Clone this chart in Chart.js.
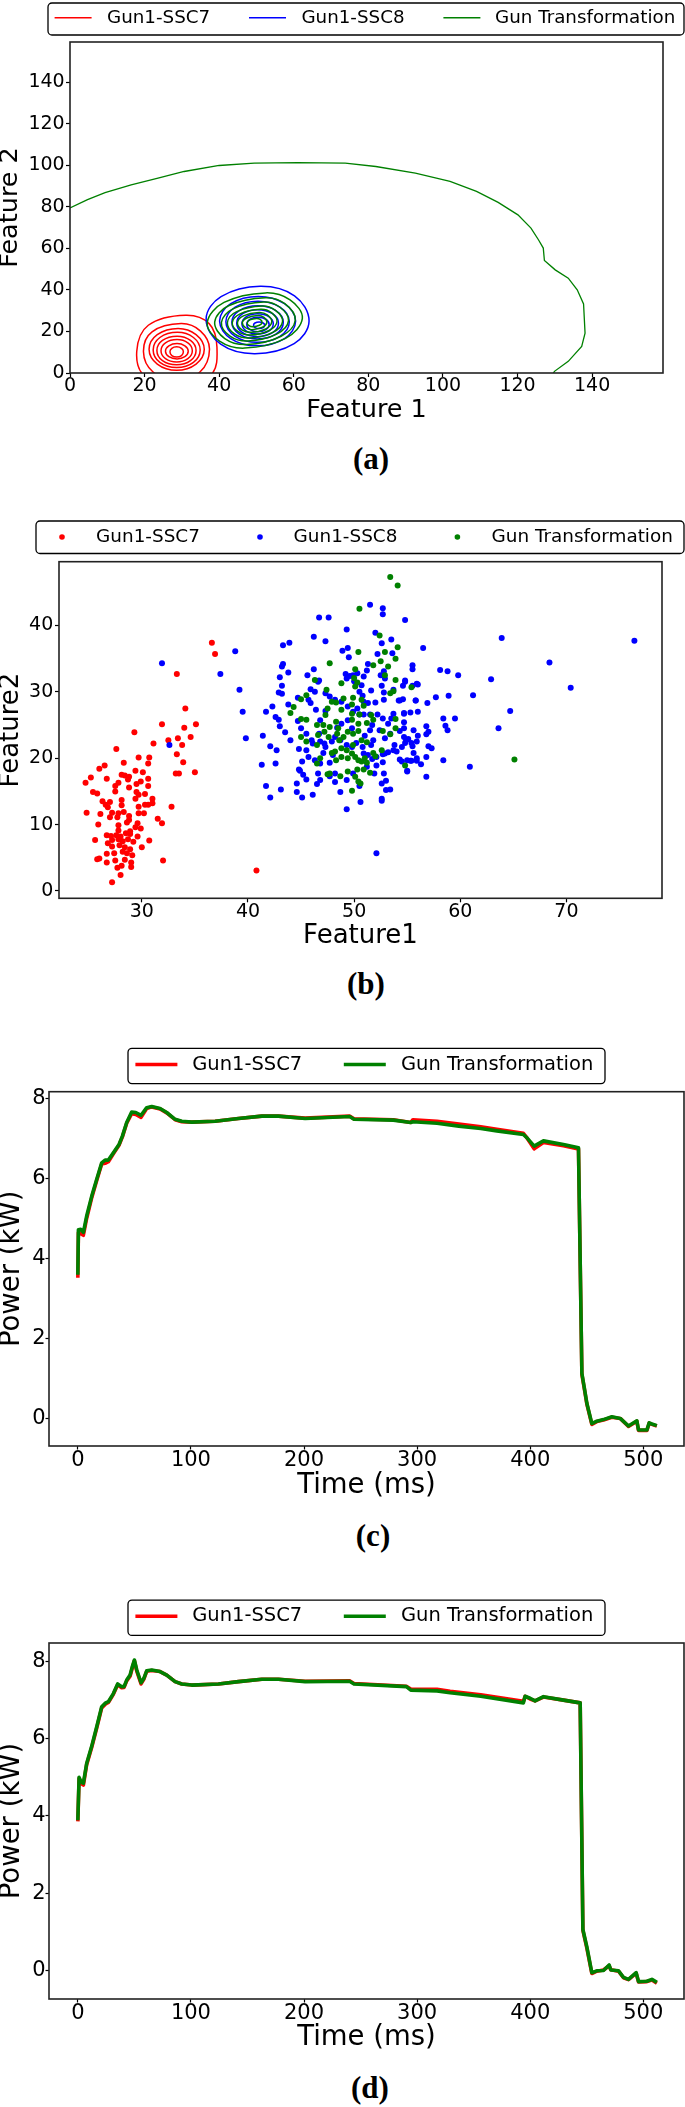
<!DOCTYPE html>
<html>
<head>
<meta charset="utf-8">
<script src="https://cdn.jsdelivr.net/npm/chart.js@4.4.1/dist/chart.umd.min.js"></script>
<style>
html, body { margin: 0; padding: 0; background: #fff; }
body { width: 685px; height: 2107px; position: relative; overflow: hidden; }
canvas { position: absolute; left: 0; }
.cap { position: absolute; width: 100px; text-align: center; font: bold 31px "Liberation Serif", serif; line-height: 31px; }
</style>
</head>
<body>
<canvas id="chartA" width="685" height="440" style="top:0px"></canvas>
<div class="cap" style="left:321px;top:443px">(a)</div>
<canvas id="chartB" width="685" height="460" style="top:500px"></canvas>
<div class="cap" style="left:316px;top:968px">(b)</div>
<canvas id="chartC" width="685" height="470" style="top:1040px"></canvas>
<div class="cap" style="left:323px;top:1520px">(c)</div>
<canvas id="chartD" width="685" height="470" style="top:1590px"></canvas>
<div class="cap" style="left:320px;top:2072px">(d)</div>
<script>
// ---------- (a) density contours, each ring as [x, y] vertices (E, NE, N, NW, W, SW, S, SE)
var ssc7Rings = [
  [[39.4,12.5],[37.3,23.8],[31.0,27.8],[21.0,23.0],[17.9,10.5],[20.0,-1.5],[28.6,-6.5],[37.8,-1.0]],
  [[37.4,11.5],[35.0,20.2],[29.8,23.8],[22.0,19.8],[19.7,10.2],[22.2,0.6],[28.6,-3.4],[34.9,0.6]],
  [[36.0,11.4],[33.8,18.5],[29.0,21.5],[23.4,18.5],[21.2,11.4],[23.4,4.3],[28.6,1.3],[33.8,4.3]],
  [[34.9,11.1],[33.1,17.1],[28.8,19.6],[24.1,17.1],[22.3,11.1],[24.1,5.1],[28.6,2.6],[33.1,5.1]],
  [[33.8,10.9],[32.3,15.7],[28.7,17.7],[24.8,15.7],[23.3,10.9],[24.8,6.0],[28.6,4.0],[32.3,6.0]],
  [[32.8,10.7],[31.6,14.5],[28.7,16.1],[25.6,14.5],[24.4,10.7],[25.6,6.9],[28.6,5.3],[31.6,6.9]],
  [[31.7,10.5],[30.8,13.1],[28.7,14.2],[26.5,13.1],[25.6,10.5],[26.5,7.9],[28.7,6.8],[30.8,7.9]],
  [[30.4,10.2],[29.9,11.9],[28.6,12.6],[27.3,11.9],[26.8,10.2],[27.3,8.4],[28.6,7.7],[29.9,8.4]]
];
var ssc8Rings = [
  [[64.1,25.0],[60.2,37.2],[51.0,41.8],[40.5,36.8],[36.5,26.0],[40.4,13.9],[49.6,9.3],[60.1,14.2]],
  [[60.5,25.0],[57.5,33.4],[50.5,36.9],[43.1,33.4],[40.1,25.0],[43.1,16.6],[50.1,13.1],[57.5,16.6]],
  [[58.8,24.7],[56.3,31.7],[50.4,34.6],[44.3,31.7],[41.8,24.7],[44.3,17.7],[50.2,14.8],[56.3,17.7]],
  [[57.2,24.4],[55.2,30.1],[50.4,32.4],[45.4,30.1],[43.4,24.4],[45.4,18.7],[50.2,16.4],[55.2,18.7]],
  [[55.9,24.0],[54.3,28.6],[50.3,30.5],[46.3,28.6],[44.7,24.0],[46.3,19.4],[50.3,17.5],[54.3,19.4]],
  [[54.5,23.7],[53.3,27.2],[50.3,28.6],[47.3,27.2],[46.1,23.7],[47.3,20.2],[50.3,18.8],[53.3,20.2]],
  [[53.4,23.4],[52.5,25.9],[50.4,26.9],[48.3,25.9],[47.4,23.4],[48.3,20.9],[50.4,19.9],[52.5,20.9]],
  [[52.2,23.0],[51.8,24.1],[50.7,24.6],[49.6,24.1],[49.2,23.0],[49.6,21.9],[50.7,21.4],[51.8,21.9]]
];
var transRings = [
  [[62.3,26.3],[59.0,35.2],[52.4,38.6],[41.3,34.0],[36.8,24.3],[40.1,15.4],[46.8,12.0],[57.8,16.7]],
  [[60.4,25.4],[57.6,33.4],[52.4,36.3],[42.5,32.4],[38.8,24.6],[41.5,16.6],[47.4,13.7],[56.6,17.7]],
  [[58.6,25.2],[56.2,31.8],[51.9,34.2],[43.7,30.9],[40.6,24.4],[42.9,17.8],[47.7,15.4],[55.4,18.7]],
  [[57.0,24.9],[55.0,30.3],[51.5,32.3],[44.7,29.6],[42.2,24.3],[44.1,18.9],[48.1,16.9],[54.4,19.6]],
  [[55.5,24.7],[54.0,29.1],[51.1,30.7],[45.6,28.5],[43.5,24.3],[45.1,19.9],[48.3,18.3],[53.4,20.5]],
  [[54.1,24.6],[52.9,28.0],[50.7,29.2],[46.5,27.5],[44.9,24.2],[46.1,20.8],[48.6,19.6],[52.5,21.3]],
  [[52.8,24.4],[52.0,26.8],[50.4,27.7],[47.4,26.5],[46.2,24.2],[47.1,21.8],[48.8,20.9],[51.6,22.1]],
  [[51.5,24.3],[51.0,25.8],[50.0,26.3],[48.2,25.6],[47.5,24.3],[48.0,22.8],[49.1,22.3],[50.8,23.0]]
];
var transOuter = [[0,79.5],[4.7,83.5],[9.4,86.9],[16.4,90.7],[23.6,93.9],[30.6,97.1],[40.0,100.0],[49.4,101.1],
  [61.1,101.4],[73.8,101.1],[82.0,99.5],[92.6,96.3],[101.9,92.3],[109.0,87.5],[114.8,82.2],[120.1,76.2],
  [123.6,69.8],[125.6,64.2],[126.9,60.2],[127.2,54.2],[130.1,49.7],[133.6,45.7],[136.0,40.1],[137.7,33.3],
  [138.1,19.2],[137.2,12.8],[133.6,5.6],[129.9,0.8],[129.6,0]];
var featureTicksA = [0, 20, 40, 60, 80, 100, 120, 140];

// ---------- (b) scatter of extracted features
var ssc7Pts = [[36.6,37.4],[36.9,35.7],[33.3,32.7],[34.1,27.5],[31.9,25.1],[34.0,24.6],[35.1,25.1],[29.3,23.9],[33.4,23.0],[34.6,23.2],
  [31.1,22.2],[32.5,22.7],[33.8,22.0],[27.6,21.4],[33.3,20.6],[29.7,20.1],[30.7,20.1],[30.6,19.2],[33.9,19.4],[28.3,19.3],
  [26.0,18.4],[26.5,18.9],[29.4,18.1],[30.1,17.9],[33.2,17.7],[33.5,17.7],[35.0,17.9],[25.2,17.1],[26.7,16.9],[28.1,17.5],
  [28.4,17.4],[28.8,17.2],[24.7,16.3],[27.8,16.3],[28.7,16.8],[29.9,16.5],[30.6,16.9],[27.5,15.8],[28.8,15.6],[29.5,16.1],
  [30.6,15.8],[25.4,14.9],[25.8,14.7],[27.5,15.0],[29.5,14.9],[29.7,14.5],[30.3,14.6],[26.3,13.5],[27.0,13.4],[28.1,13.7],
  [31.0,13.9],[26.6,13.0],[28.1,12.9],[29.7,12.7],[30.3,13.0],[30.6,13.0],[31.0,13.2],[26.8,12.6],[29.4,13.9],[24.8,11.8],
  [26.1,11.6],[27.2,11.8],[27.8,11.7],[28.3,11.9],[27.0,11.1],[27.7,11.1],[28.8,11.3],[29.7,11.7],[30.2,11.7],[32.8,12.7],
  [31.5,10.9],[31.9,10.2],[25.9,10.0],[27.8,9.9],[28.6,10.3],[29.6,10.2],[28.8,10.7],[29.4,9.6],[29.9,9.4],[27.8,9.1],
  [28.9,9.0],[28.5,8.7],[25.6,7.7],[26.7,8.4],[27.1,8.3],[27.6,8.4],[28.0,8.2],[28.9,8.6],[29.6,8.2],[26.8,7.2],
  [27.2,7.7],[27.8,7.8],[28.2,7.5],[28.7,7.8],[29.2,7.4],[30.7,7.6],[27.2,6.7],[27.9,6.9],[28.4,6.6],[28.9,6.3],
  [30.0,6.6],[26.7,5.6],[27.4,5.7],[28.2,5.9],[28.6,5.7],[29.1,5.4],[25.8,4.8],[26.0,4.9],[26.7,4.3],[27.5,4.6],
  [28.4,4.7],[29.0,4.3],[32.0,4.6],[27.7,3.5],[28.1,3.8],[29.0,3.6],[28.0,2.4],[27.2,1.3],[40.8,3.1]];
var ssc8Pts = [[31.9,34.3],[37.4,32.7],[32.6,22.0],[38.8,36.1],[39.2,30.3],[39.5,27.0],[39.8,23.0],[41.4,23.4],[41.3,19.0],[41.7,15.8],
  [42.1,14.1],[42.6,19.2],[43.1,15.3],[42.1,21.8],[42.7,21.2],[41.7,27.0],[42.3,27.8],[42.6,26.2],[42.9,25.8],[43.0,24.8],
  [43.2,29.7],[43.2,30.9],[43.0,32.2],[42.9,29.9],[43.2,33.8],[43.3,34.2],[43.3,37.0],[43.9,37.4],[43.8,32.9],[43.5,23.9],
  [43.8,28.1],[44.0,22.7],[44.7,29.1],[44.7,25.6],[45.0,24.5],[44.8,21.4],[45.1,19.5],[44.8,18.3],[44.9,18.1],[45.2,17.5],
  [45.5,16.8],[44.6,16.2],[44.6,14.9],[45.1,14.1],[46.1,14.5],[46.5,16.1],[46.6,17.7],[45.7,20.2],[46.0,22.7],[46.7,23.7],
  [46.2,38.3],[46.7,41.2],[47.6,41.2],[47.3,37.6],[45.6,32.5],[46.2,33.4],[45.9,30.4],[46.3,30.0],[46.6,31.5],[46.7,31.7],
  [45.7,28.8],[45.9,28.3],[46.4,27.3],[47.3,27.1],[46.8,25.7],[45.5,23.7],[46.8,22.5],[46.3,19.7],[47.1,20.8],[47.3,21.7],
  [48.0,20.5],[47.7,19.3],[46.8,19.2],[48.2,16.4],[48.7,14.9],[49.3,12.3],[50.6,13.4],[50.5,15.8],[48.2,17.7],[49.3,39.4],
  [48.9,36.2],[49.4,36.6],[49.5,35.2],[49.2,32.7],[49.3,32.0],[49.6,32.4],[49.9,32.5],[50.3,32.8],[50.9,32.3],[50.0,31.6],
  [50.7,31.0],[51.2,33.2],[51.5,43.1],[52.7,42.6],[52.7,41.7],[52.0,38.9],[52.6,37.3],[53.5,37.9],[52.2,35.7],[53.6,35.8],
  [54.8,40.8],[52.8,33.1],[52.5,32.5],[52.9,32.0],[51.6,30.2],[52.6,30.9],[52.8,29.9],[52.8,28.8],[52.0,28.4],[51.3,28.3],
  [50.8,29.4],[50.5,26.6],[51.5,26.6],[52.2,26.6],[52.7,26.0],[53.5,26.0],[54.2,28.7],[54.6,28.9],[53.7,30.3],[54.8,31.5],
  [55.5,34.0],[55.5,33.4],[55.5,30.9],[55.9,31.2],[55.8,28.7],[54.7,26.8],[55.3,26.9],[56.0,27.0],[53.2,25.2],[54.3,24.1],
  [54.7,24.5],[54.9,22.7],[55.4,22.3],[55.9,22.5],[55.6,20.8],[55.0,19.7],[55.3,19.6],[55.0,18.1],[55.9,19.6],[54.3,19.8],
  [53.7,21.2],[54.0,21.0],[53.2,20.9],[52.7,20.6],[52.9,20.7],[52.7,19.4],[52.1,18.9],[51.9,17.7],[52.8,17.7],[52.6,16.2],
  [53.0,16.6],[53.0,15.2],[53.4,15.3],[52.6,13.9],[52.6,13.6],[51.7,19.9],[51.6,22.0],[51.8,22.7],[51.5,24.2],[51.7,25.0],
  [51.0,23.4],[51.3,20.5],[50.8,21.7],[50.9,20.7],[50.2,22.3],[49.8,21.7],[49.3,22.0],[48.7,22.7],[48.2,23.2],[47.9,22.5],
  [47.2,22.2],[48.4,24.6],[48.8,25.2],[49.4,25.7],[49.8,24.5],[50.9,26.6],[50.3,27.5],[49.9,27.0],[49.4,27.8],[48.8,28.5],
  [48.2,28.8],[47.7,29.3],[47.3,29.8],[46.1,22.2],[45.5,21.2],[47.7,17.3],[46.8,16.7],[49.3,16.7],[49.9,17.7],[51.2,18.7],
  [52.1,20.2],[52.4,24.2],[52.9,23.0],[53.4,23.7],[53.7,26.7],[50.9,28.5],[50.5,30.0],[51.3,34.2],[53.8,22.0],[54.5,21.7],
  [56.5,36.6],[63.9,38.1],[76.4,37.7],[68.4,34.4],[58.1,33.3],[58.8,33.1],[59.8,32.5],[62.9,31.9],[70.4,30.6],[54.6,30.9],
  [54.8,31.7],[56.0,31.1],[57.7,29.2],[58.9,29.4],[61.2,29.5],[56.9,28.3],[55.8,28.7],[54.3,28.7],[54.7,26.7],[64.7,27.1],
  [58.4,26.0],[59.5,26.0],[54.7,25.4],[56.8,24.8],[58.6,24.9],[58.8,24.2],[63.6,24.5],[57.0,24.0],[56.8,23.6],[55.6,24.2],
  [56.0,23.4],[54.7,23.2],[55.1,22.9],[54.8,22.3],[55.5,21.8],[57.0,21.8],[57.3,21.5],[56.8,20.2],[55.9,20.0],[55.4,19.6],
  [54.5,19.5],[56.3,19.1],[55.0,18.0],[58.4,19.7],[60.9,18.7],[56.8,17.2],[52.1,5.7]];
var transPts = [[53.4,47.3],[54.1,46.0],[50.5,42.5],[52.4,38.5],[54.1,36.7],[53.9,35.0],[52.9,36.0],[52.5,34.6],[53.2,33.8],[52.9,32.5],
  [51.8,34.0],[50.4,36.0],[47.7,34.3],[50.1,33.4],[50.0,32.1],[50.1,30.8],[50.3,31.4],[48.8,31.3],[53.9,31.8],[53.4,29.8],
  [53.7,30.1],[55.4,30.7],[46.3,31.8],[47.4,30.3],[45.5,29.5],[45.0,28.9],[44.3,27.7],[44.0,26.8],[47.9,28.5],[48.3,28.4],
  [49.0,29.0],[49.9,29.1],[49.8,28.1],[50.7,28.8],[50.9,27.9],[47.5,27.5],[47.3,26.5],[48.8,27.3],[49.8,26.7],[50.5,26.6],
  [51.6,26.5],[51.8,25.8],[51.2,25.3],[50.4,25.2],[49.8,25.8],[48.3,25.5],[47.7,24.7],[47.1,25.0],[46.5,25.0],[45.5,25.8],
  [45.0,25.9],[45.0,23.2],[45.5,22.5],[46.6,23.5],[46.5,22.0],[47.2,24.0],[47.6,23.2],[48.4,23.7],[48.6,22.7],[49.0,23.2],
  [49.4,24.0],[49.9,23.7],[50.4,24.1],[51.2,22.4],[50.7,22.7],[49.9,22.0],[49.3,21.2],[48.8,21.5],[48.2,21.0],[47.9,20.8],
  [48.3,19.7],[48.8,20.2],[49.4,20.0],[49.8,20.7],[50.1,20.2],[50.4,19.7],[50.7,19.5],[51.0,20.0],[51.2,19.3],[51.8,20.8],
  [52.0,20.3],[51.5,17.8],[50.9,18.3],[50.3,18.3],[50.1,17.2],[50.4,16.5],[50.6,16.2],[49.4,18.0],[48.7,17.3],[47.7,17.7],
  [47.5,17.6],[46.8,20.0],[46.5,19.2],[49.8,15.1],[48.5,24.5],[52.7,24.1],[53.4,23.6],[53.9,25.9],[52.6,21.2],[54.8,18.9],
  [53.9,24.5],[65.1,19.8]];
var xTicksB = [30, 40, 50, 60, 70];
var yTicksB = [0, 10, 20, 30, 40];

// ---------- (c) power trace, shot 1
var timeC = [0,0.5,2.5,4.9,7.8,12.3,16.7,21.1,24.1,27.0,31.4,36.4,39.4,43.2,47.6,51.2,55.9,60.9,65.3,72.7,
  78.6,86.0,91.9,100.7,121.4,142.0,162.7,177.4,201.0,240.3,244.2,279.0,294.4,296.3,317.6,336.9,356.3,370.5,394.0,397.0,
  403.5,411.7,429.4,442.7,445.7,447.7,450.1,454.5,458.9,464.8,472.2,479.6,486.9,494.3,495.8,503.2,505.2,507.6,512.0];
var ssc7C = [3.52,4.65,4.62,4.58,5.0,5.52,5.95,6.36,6.38,6.42,6.62,6.83,7.04,7.38,7.62,7.6,7.53,7.75,7.79,7.74,
  7.64,7.47,7.42,7.41,7.43,7.50,7.56,7.56,7.51,7.56,7.49,7.47,7.40,7.47,7.43,7.36,7.29,7.23,7.13,7.02,
  6.74,6.90,6.82,6.74,1.10,0.77,0.36,-0.15,-0.08,-0.04,0.03,0.00,-0.20,-0.07,-0.30,-0.30,-0.12,-0.15,-0.19];
var transC = [3.59,4.72,4.73,4.65,5.06,5.56,5.98,6.39,6.46,6.46,6.64,6.85,7.06,7.40,7.66,7.65,7.58,7.77,7.80,7.75,
  7.65,7.48,7.43,7.41,7.43,7.50,7.56,7.56,7.50,7.55,7.48,7.46,7.40,7.42,7.38,7.31,7.25,7.19,7.10,7.02,
  6.81,6.94,6.85,6.77,1.13,0.79,0.38,-0.13,-0.07,-0.03,0.04,0.00,-0.19,-0.06,-0.29,-0.29,-0.11,-0.14,-0.18];

// ---------- (d) power trace, shot 2
var timeD = [0,1.1,2.8,4.9,7.8,12.3,16.7,21.1,24.6,27.0,31.4,35.2,38.8,40.9,43.2,46.2,48.2,50.0,52.1,55.9,
  58.3,60.9,65.3,72.7,78.6,86.0,91.9,100.7,124.3,142.0,162.7,177.4,201.0,240.3,244.2,290.5,294.4,317.6,329.2,356.3,
  394.0,395.5,399.9,404.3,411.7,429.4,444.2,446.6,450.1,454.5,458.9,464.8,469.8,471.3,478.1,482.5,486.9,493.7,495.8,503.2,
  507.6,512.0];
var ssc7D = [3.86,4.97,4.84,4.80,5.33,5.78,6.28,6.80,6.90,6.94,7.15,7.40,7.32,7.33,7.50,7.62,7.84,8.02,7.75,7.42,
  7.54,7.75,7.77,7.74,7.65,7.48,7.42,7.39,7.42,7.48,7.54,7.54,7.49,7.50,7.43,7.36,7.29,7.28,7.23,7.14,
  6.97,7.10,7.03,6.98,7.08,7.00,6.93,1.04,0.58,-0.08,-0.02,0.01,0.12,0.02,-0.02,-0.19,-0.24,-0.07,-0.30,-0.29,
  -0.25,-0.33];
var transD = [3.89,5.0,4.89,4.85,5.36,5.81,6.31,6.83,6.93,6.96,7.17,7.42,7.35,7.35,7.52,7.65,7.87,8.04,7.78,7.45,
  7.56,7.76,7.78,7.74,7.65,7.48,7.42,7.39,7.42,7.48,7.54,7.54,7.48,7.49,7.42,7.35,7.26,7.24,7.19,7.10,
  6.93,7.10,7.05,6.98,7.09,7.00,6.93,1.06,0.61,-0.06,-0.01,0.00,0.14,0.01,-0.01,-0.18,-0.23,-0.06,-0.29,-0.28,
  -0.23,-0.31];
var timeTicks = [0, 100, 200, 300, 400, 500];
var powerTicks = [0, 2, 4, 6, 8];

var RED = '#ff0000', BLUE = '#0000ff', GREEN = '#008000';

Chart.defaults.font.family = '"DejaVu Sans", sans-serif';
Chart.defaults.color = '#000';
Chart.defaults.animation = false;
Chart.defaults.events = [];
Chart.defaults.plugins.legend.display = false;
Chart.defaults.plugins.tooltip.enabled = false;

// contour rings are closed curves
var closeRings = {
  id: 'closeRings',
  afterDatasetsUpdate: function (chart) {
    chart.data.datasets.forEach(function (ds, i) {
      if (!ds.ring) return;
      var line = chart.getDatasetMeta(i).dataset;
      if (line) { line._loop = true; line._fullLoop = true; }
    });
  }
};

// axes frame + framed legend like matplotlib's
var frameLegend = {
  id: 'frameLegend',
  afterDraw: function (chart, args, o) {
    if (!o.box) return;
    var ctx = chart.ctx, a = chart.chartArea;
    ctx.save();
    ctx.strokeStyle = '#222';
    ctx.lineWidth = 1.6;
    ctx.strokeRect(a.left, a.top, a.right - a.left, a.bottom - a.top);

    var b = o.box, r = 4;
    ctx.lineWidth = 1.3;
    ctx.strokeStyle = '#000';
    ctx.beginPath();
    ctx.moveTo(b[0] + r, b[1]);
    ctx.arcTo(b[0] + b[2], b[1], b[0] + b[2], b[1] + b[3], r);
    ctx.arcTo(b[0] + b[2], b[1] + b[3], b[0], b[1] + b[3], r);
    ctx.arcTo(b[0], b[1] + b[3], b[0], b[1], r);
    ctx.arcTo(b[0], b[1], b[0] + b[2], b[1], r);
    ctx.closePath();
    ctx.stroke();

    var seen = [];
    chart.data.datasets.forEach(function (ds) {
      if (!seen.some(function (s) { return s.label === ds.label; })) seen.push(ds);
    });
    ctx.font = o.fontSize + 'px "DejaVu Sans"';
    ctx.textBaseline = 'middle';
    ctx.textAlign = 'left';
    seen.forEach(function (ds, i) {
      var hx = o.handleX[i];
      if (o.kind === 'dot') {
        ctx.fillStyle = ds.backgroundColor;
        ctx.beginPath();
        ctx.arc(hx, o.y, 2.8, 0, Math.PI * 2);
        ctx.fill();
      } else {
        ctx.strokeStyle = ds.borderColor;
        ctx.lineWidth = o.lineWidth;
        ctx.beginPath();
        ctx.moveTo(hx, o.y);
        ctx.lineTo(hx + o.handleLen, o.y);
        ctx.stroke();
      }
      ctx.fillStyle = '#000';
      ctx.fillText(ds.label, o.textX[i], o.y);
    });
    ctx.restore();
  }
};
Chart.register(closeRings, frameLegend);

function axis(o) {
  return {
    type: 'linear',
    min: o.min,
    max: o.max,
    afterBuildTicks: function (s) { s.ticks = o.ticks.map(function (v) { return { value: v }; }); },
    afterFit: function (s) { if (o.isY) s.width = o.size; else s.height = o.size; },
    grid: { drawOnChartArea: false, drawTicks: true, tickLength: o.tickLen, tickColor: '#000', tickWidth: 1.2 },
    border: { display: false },
    ticks: { font: { size: o.tickSize, lineHeight: 1 }, padding: o.tickPad, color: '#000' },
    title: { display: true, text: o.title, color: '#000', font: { size: o.titleSize, lineHeight: 1 }, padding: o.titlePad }
  };
}

function pts(list) { return list.map(function (p) { return { x: p[0], y: p[1] }; }); }
function series(xs, ys) { return xs.map(function (x, i) { return { x: x, y: ys[i] }; }); }

function ringSets(rings, label, color, order) {
  return rings.map(function (r) {
    return { label: label, ring: true, data: pts(r), showLine: true, borderColor: color, backgroundColor: color,
      borderWidth: 1.5, pointRadius: 0, tension: 0.38, order: order };
  });
}

// ---------- (a)
var setsA = [].concat(
  ringSets(ssc7Rings, 'Gun1-SSC7', RED, 3),
  ringSets(ssc8Rings, 'Gun1-SSC8', BLUE, 2),
  ringSets(transRings, 'Gun Transformation', GREEN, 1),
  [{ label: 'Gun Transformation', data: pts(transOuter), showLine: true, borderColor: GREEN, backgroundColor: GREEN,
     borderWidth: 1.3, pointRadius: 0, tension: 0, order: 1 }]
);
new Chart(document.getElementById('chartA'), {
  type: 'scatter',
  data: { datasets: setsA },
  options: {
    responsive: false,
    layout: { padding: { top: 42, right: 22, left: 0, bottom: 0 } },
    scales: {
      x: axis({ min: 0, max: 159, ticks: featureTicksA, size: 67, tickLen: 4, tickSize: 19, tickPad: 0,
        title: 'Feature 1', titleSize: 25.5, titlePad: { top: 0, bottom: 16.5 } }),
      y: axis({ isY: true, min: 0, max: 159.5, ticks: featureTicksA, size: 70, tickLen: 4, tickSize: 19, tickPad: 1.3,
        title: 'Feature 2', titleSize: 25.5, titlePad: { top: -2.2, bottom: 0 } })
    },
    plugins: {
      frameLegend: { box: [48, 3, 636, 32], kind: 'line', handleX: [54.6, 249, 443.4], handleLen: 37,
        textX: [107, 301.4, 495], y: 17.8, fontSize: 18.3, lineWidth: 1.5 }
    }
  }
});

// ---------- (b)
new Chart(document.getElementById('chartB'), {
  type: 'scatter',
  data: {
    datasets: [
      { label: 'Gun1-SSC7', data: pts(ssc7Pts), backgroundColor: RED, borderWidth: 0, pointRadius: 3, order: 3 },
      { label: 'Gun1-SSC8', data: pts(ssc8Pts), backgroundColor: BLUE, borderWidth: 0, pointRadius: 3, order: 2 },
      { label: 'Gun Transformation', data: pts(transPts), backgroundColor: GREEN, borderWidth: 0, pointRadius: 3, order: 1 }
    ]
  },
  options: {
    responsive: false,
    layout: { padding: { top: 61.7, right: 23, left: 0, bottom: 0 } },
    scales: {
      x: axis({ min: 22.2, max: 79.0, ticks: xTicksB, size: 61.7, tickLen: 4, tickSize: 19, tickPad: 0,
        title: 'Feature1', titleSize: 26, titlePad: { top: 0, bottom: 10.3 } }),
      y: axis({ isY: true, min: -1.1, max: 49.6, ticks: yTicksB, size: 59, tickLen: 4, tickSize: 19, tickPad: 1.7,
        title: 'Feature2', titleSize: 26, titlePad: { top: -2.1, bottom: 0 } })
    },
    plugins: {
      frameLegend: { box: [36, 21, 648, 32.5], kind: 'dot', handleX: [62, 260, 457.4],
        textX: [96.1, 293.6, 491.5], y: 37, fontSize: 18.4 }
    }
  }
});

// ---------- (c) and (d)
function powerChart(id, times, red, green, o) {
  new Chart(document.getElementById(id), {
    type: 'scatter',
    data: {
      datasets: [
        { label: 'Gun1-SSC7', data: series(times, red), showLine: true, borderColor: RED, backgroundColor: RED,
          borderWidth: 3.6, pointRadius: 0, borderJoinStyle: 'round', order: 2 },
        { label: 'Gun Transformation', data: series(times, green), showLine: true, borderColor: GREEN, backgroundColor: GREEN,
          borderWidth: 3.6, pointRadius: 0, borderJoinStyle: 'round', order: 1 }
      ]
    },
    options: {
      responsive: false,
      layout: { padding: { top: o.top, right: 1, left: 0, bottom: 0 } },
      scales: {
        x: axis({ min: -25.5, max: 536, ticks: timeTicks, size: o.xh, tickLen: 3.5, tickSize: 21, tickPad: 0.8,
          title: 'Time (ms)', titleSize: 27.5, titlePad: { top: 0, bottom: o.titleBottom } }),
        y: axis({ isY: true, min: o.ymin, max: o.ymax, ticks: powerTicks, size: 49, tickLen: 3.5, tickSize: 21, tickPad: 0,
          title: 'Power (kW)', titleSize: 27.5, titlePad: { top: -1.75, bottom: 0 } })
      },
      plugins: {
        frameLegend: { box: [128, o.boxTop, 477, 35.3], kind: 'line', handleX: [135.4, 343.8], handleLen: 42,
          textX: [192.2, 401], y: o.boxTop + 16.2, fontSize: 19.5, lineWidth: 3.6 }
      }
    }
  });
}
powerChart('chartC', timeC, ssc7C, transC, { top: 51.7, xh: 64, ymin: -0.69, ymax: 8.17, titleBottom: 10.4, boxTop: 8.3 });
powerChart('chartD', timeD, ssc7D, transD, { top: 53, xh: 61, ymin: -0.74, ymax: 8.48, titleBottom: 8, boxTop: 10.1 });
</script>
</body>
</html>
